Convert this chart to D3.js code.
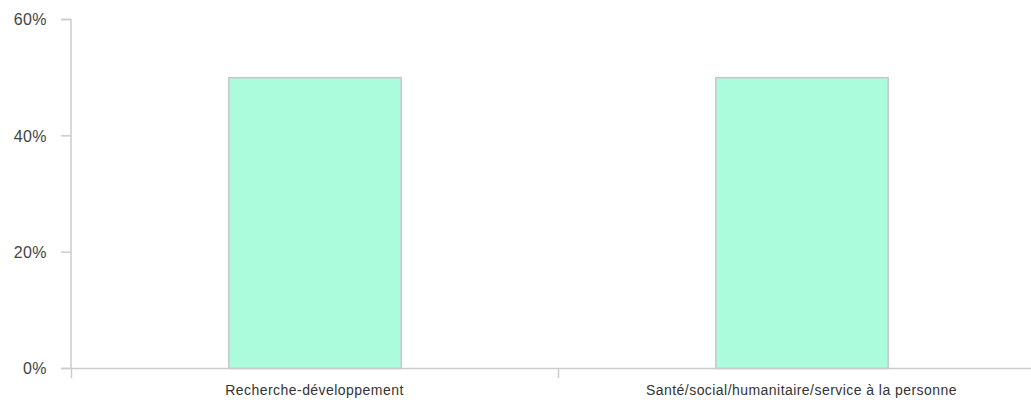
<!DOCTYPE html>
<html><head><meta charset="utf-8">
<script src="https://cdn.jsdelivr.net/npm/d3@7"></script>
<style>body{margin:0;background:#fff;}svg{display:block;font-family:"Liberation Sans",Arial,sans-serif;}</style>
</head><body>
<svg id="c" width="1031" height="400"></svg>
<script>
const categories = ["Recherche-développement", "Santé/social/humanitaire/service à la personne"];
const values = [50, 50];
const yTicks = [0, 20, 40, 60];

(function(){
const svg = d3.select("#c");
const mLeft = 71, mTop = 19, mBottom = 368;
const x = d3.scaleBand().domain(categories).range([mLeft, 1045]).paddingInner(0).paddingOuter(0);
const y = d3.scaleLinear().domain([0, 60]).range([mBottom, mTop]);
const bw = x.bandwidth() * 0.354;

// bars
svg.selectAll("rect.bar").data(categories).enter().append("rect")
  .attr("x", d => x(d) + x.bandwidth()/2 - bw/2 + 0.5)
  .attr("y", (d,i) => y(values[i]) + 0.5)
  .attr("width", bw)
  .attr("height", (d,i) => y(0) - y(values[i]))
  .attr("fill", "#abfcdc").attr("stroke", "#c8c8c8").attr("stroke-width", 1.5);

// y axis
const ya = svg.append("g").attr("transform", `translate(${mLeft},0)`)
  .call(d3.axisLeft(y).tickValues(yTicks).tickFormat(d => d + "%").tickSize(10).tickPadding(14));
ya.select(".domain").attr("stroke", "#ccc").attr("stroke-width", 1.5).attr("d", `M-10,${mTop + 0.5}H0V${mBottom + 0.5}`);
ya.selectAll(".tick line").attr("stroke", "#ccc").attr("stroke-width", 1.5);
ya.selectAll(".tick text").attr("fill", "#444").attr("font-size", 16).attr("letter-spacing", "0.4px")
  .attr("dy", "0.36em").attr("font-family", "Liberation Sans, Arial, sans-serif");

// x axis baseline
svg.append("line").attr("x1", 61).attr("x2", 1031).attr("y1", mBottom + 0.5).attr("y2", mBottom + 0.5)
  .attr("stroke", "#ccc").attr("stroke-width", 1.5);
// band boundary ticks
svg.selectAll("line.xt").data(categories).enter().append("line")
  .attr("x1", d => x(d) + 0.5).attr("x2", d => x(d) + 0.5)
  .attr("y1", mBottom).attr("y2", mBottom + 10)
  .attr("stroke", "#ccc").attr("stroke-width", 1.5);
// x labels
svg.selectAll("text.xl").data(categories).enter().append("text")
  .attr("x", d => x(d) + x.bandwidth()/2).attr("y", 395)
  .attr("text-anchor", "middle").attr("font-size", 14).attr("letter-spacing", "0.45px").attr("fill", "#333")
  .text(d => d);
})();
</script>
</body></html>
